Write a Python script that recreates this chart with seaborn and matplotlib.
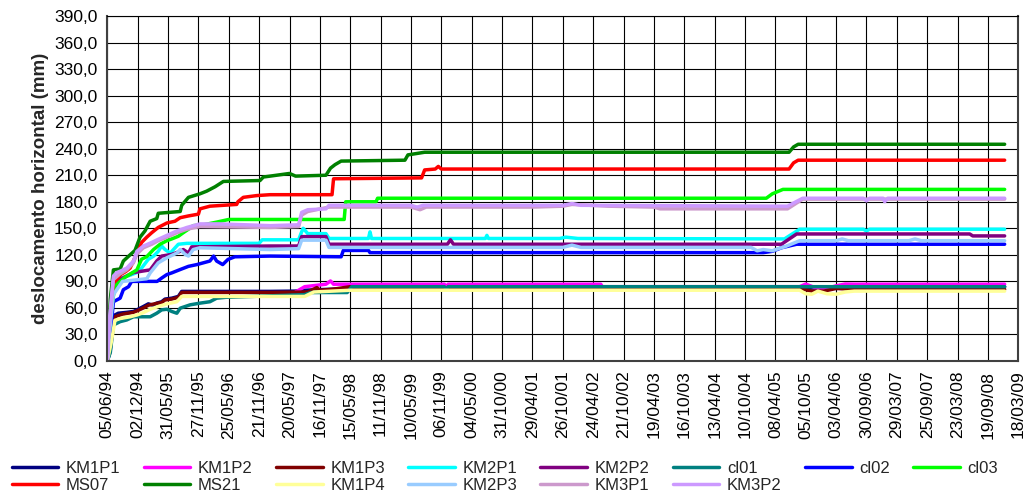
import pandas as pd
import matplotlib
matplotlib.use("Agg")
import matplotlib.pyplot as plt
import matplotlib.dates as mdates
from matplotlib.ticker import FuncFormatter, MultipleLocator
import seaborn as sns

# ======================================
# DATA (days since first reading, mm)
# ======================================

inicio = "1994-06-05"

dias_KM1P1 = [0, 16, 36, 45, 65, 115, 155, 175, 214, 243, 274, 293, 322, 342, 382, 421, 441, 965, 1116, 1170, 1440, 4050, 4590, 5319]
desl_KM1P1 = [0, 10, 42.6, 52, 54, 55, 56, 57.8, 61.6, 64.6, 63, 65.4, 67, 70, 71, 73, 78.7, 78.7, 79, 80, 82, 82, 84, 84]

dias_KM1P2 = [1116, 1170, 1296, 1323, 1341, 1998, 2009, 2020, 2925, 2934, 4104, 4140, 4194, 4248, 4320, 4374, 4428, 5319]
desl_KM1P2 = [78, 84, 86.8, 90.5, 86.8, 86.8, 83, 86.8, 86.8, 84, 84, 87, 83, 81, 85, 87, 86.8, 86.8]

dias_KM1P3 = [0, 36, 45, 90, 155, 180, 214, 243, 288, 322, 342, 382, 421, 441, 965, 1188, 1242, 1260, 1332, 1440, 1458, 4104, 4176, 4248, 4320, 4428, 5319]
desl_KM1P3 = [0, 40, 50, 53, 55, 57, 60, 63, 65, 66, 69, 70, 72, 77.5, 77.5, 78, 83, 80, 81, 84, 82, 82, 79, 79, 82, 81, 81]

dias_KM2P1 = [0, 9, 36, 72, 135, 175, 203, 243, 274, 302, 322, 342, 373, 421, 472, 900, 918, 1134, 1152, 1161, 1188, 1296, 1314, 1548, 1557, 1566, 2241, 2250, 2259, 2682, 2718, 2790, 4014, 4104, 4482, 4500, 4518, 5319]
desl_KM2P1 = [0, 30, 80, 93, 97, 100, 105, 115, 118.5, 124, 130, 126, 122, 132, 133, 133, 137, 137, 146, 150, 144, 144, 138.5, 138.5, 146, 138.5, 138.5, 142, 138.5, 138.5, 140, 138.5, 138, 149, 149, 147, 149, 149]

dias_KM2P2 = [0, 9, 36, 72, 155, 254, 293, 322, 382, 432, 450, 481, 500, 965, 1134, 1152, 1296, 1314, 2016, 2034, 2052, 3996, 4086, 5112, 5130, 5319]
desl_KM2P2 = [0, 30, 80, 92, 100, 103, 113, 118.6, 120.5, 124, 126, 122, 129, 130, 130, 140.6, 140.6, 132, 132, 137, 132, 132, 143.6, 143.6, 141.4, 141.4]

dias_cl01 = [0, 18, 36, 76, 115, 155, 254, 293, 322, 353, 382, 412, 432, 491, 549, 608, 648, 702, 1170, 1206, 1422, 1449, 1998, 2009, 2020, 5319]
desl_cl01 = [0, 10, 40.7, 44.5, 46.4, 50, 50, 54, 57.8, 58.5, 56, 54, 59.7, 63.5, 65.4, 67, 71, 72, 75, 77.4, 77.4, 84, 84, 81, 84, 84]

dias_cl02 = [0, 18, 36, 76, 95, 126, 144, 295, 324, 353, 382, 432, 481, 531, 608, 630, 648, 684, 715, 756, 965, 1386, 1399, 1548, 1557, 3888, 3942, 3996, 4086, 5319]
desl_cl02 = [0, 30, 67, 71, 80.6, 84, 90, 90, 94, 97.7, 99.6, 103.4, 107, 109, 113, 118.6, 113, 109, 114.8, 117.8, 118.6, 117.8, 125, 125, 122.5, 122.5, 124, 128, 132, 132]

dias_cl03 = [0, 18, 45, 108, 175, 203, 234, 274, 313, 353, 382, 421, 450, 481, 509, 571, 648, 720, 1404, 1413, 1593, 1602, 3906, 3942, 4005, 5319]
desl_cl03 = [0, 50, 85, 95, 103, 115, 118, 126, 132, 136, 138, 141, 145, 149, 153, 154, 157, 160, 160, 180, 180, 184, 184, 189, 194, 194]

dias_MS07 = [0, 18, 36, 81, 108, 135, 155, 175, 203, 234, 263, 302, 353, 401, 432, 481, 540, 549, 608, 767, 774, 806, 886, 965, 1332, 1341, 1863, 1881, 1944, 1962, 1980, 4041, 4068, 4095, 5319]
desl_MS07 = [0, 60, 88, 98, 101, 105, 113, 122, 134, 140, 145, 151, 156, 158, 162, 164, 166, 172, 175, 177, 180, 185, 187, 188, 188, 206, 207, 216, 217, 220, 217, 217, 224, 227, 227]

dias_MS21 = [0, 18, 36, 76, 95, 135, 164, 194, 223, 254, 293, 302, 432, 441, 481, 549, 589, 639, 688, 905, 925, 965, 1080, 1116, 1296, 1323, 1350, 1386, 1764, 1782, 1881, 4041, 4068, 4095, 5319]
desl_MS21 = [0, 70, 103, 104, 113, 120, 125, 140, 147, 158, 161, 167, 169, 176, 185, 189, 192, 197, 203, 204, 208, 209, 212, 209, 210, 218, 222, 226, 227, 233, 236, 236, 242, 245, 245]

dias_KM1P4 = [0, 22, 36, 45, 76, 135, 175, 214, 254, 302, 353, 412, 441, 965, 1170, 1224, 1440, 4104, 4140, 4176, 4212, 4266, 4320, 4374, 4428, 5319]
desl_KM1P4 = [0, 20, 35, 46, 48, 50, 52, 54.7, 58.5, 61.6, 64.6, 67, 73, 73, 73, 78, 80, 80, 76, 75.5, 79, 76, 75.5, 78, 79, 79]

dias_KM2P3 = [0, 9, 36, 90, 234, 254, 302, 353, 412, 432, 461, 481, 509, 549, 965, 1134, 1152, 1296, 1314, 2700, 2754, 2808, 3816, 3852, 3888, 3942, 3978, 4014, 4104, 4320, 4356, 4392, 4752, 4788, 4824, 5319]
desl_KM2P3 = [0, 25, 75, 90, 93, 99.6, 111, 116.7, 122, 126, 120.5, 118.6, 126, 128, 126, 127, 136.6, 136.6, 128.4, 128.4, 131, 128.4, 128.4, 124.6, 126, 124.6, 127, 129, 136, 136, 138, 136, 136, 138, 136, 136]

dias_KM3P1 = [0, 9, 36, 72, 115, 155, 175, 214, 263, 302, 353, 412, 472, 549, 965, 1134, 1152, 1188, 1314, 1800, 1854, 1890, 2520, 2700, 2754, 2970, 3240, 3276, 4032, 4122, 5319]
desl_KM3P1 = [0, 35, 92, 98, 103, 111, 121, 128, 132, 136, 140, 145, 149, 152, 151, 152, 165, 169, 174, 174, 171, 174, 174, 175, 177, 175, 174, 172, 172, 183, 183]

dias_KM3P2 = [0, 9, 36, 56, 76, 115, 155, 175, 214, 263, 302, 353, 412, 472, 549, 666, 965, 1134, 1152, 1188, 1296, 1314, 1800, 1836, 1872, 2700, 2754, 2808, 4032, 4122, 4482, 4500, 4518, 4599, 4608, 4626, 5319]
desl_KM3P2 = [0, 40, 96, 100, 101.5, 105, 113, 124, 130, 134, 137.6, 142, 147, 151, 155, 155, 153, 154, 168, 171, 172, 176, 176, 174, 176, 176, 178, 176, 175, 184, 184, 181, 184, 184, 180, 184, 184]

nomes = ["KM1P1", "KM1P2", "KM1P3", "KM2P1", "KM2P2", "cl01", "cl02", "cl03",
         "MS07", "MS21", "KM1P4", "KM2P3", "KM3P1", "KM3P2"]

cores = ["#000080", "#FF00FF", "#800000", "#00FFFF", "#800080", "#008080", "#0000FF", "#00FF00",
         "#FF0000", "#008000", "#FFFF99", "#99CCFF", "#CC99CC", "#CC99FF"]

series = [
    (dias_KM1P1, desl_KM1P1), (dias_KM1P2, desl_KM1P2), (dias_KM1P3, desl_KM1P3),
    (dias_KM2P1, desl_KM2P1), (dias_KM2P2, desl_KM2P2), (dias_cl01, desl_cl01),
    (dias_cl02, desl_cl02), (dias_cl03, desl_cl03), (dias_MS07, desl_MS07),
    (dias_MS21, desl_MS21), (dias_KM1P4, desl_KM1P4), (dias_KM2P3, desl_KM2P3),
    (dias_KM3P1, desl_KM3P1), (dias_KM3P2, desl_KM3P2),
]

# ======================================
# LONG TABLE
# ======================================

partes = []
for nome, (dias, desl) in zip(nomes, series):
    partes.append(pd.DataFrame({
        "data": pd.Timestamp(inicio) + pd.to_timedelta(dias, unit="D"),
        "desl": desl,
        "ponto": nome
    }))
df = pd.concat(partes, ignore_index=True)

# ======================================
# PLOT
# ======================================

sns.set_style("white")
plt.rcParams["font.family"] = ["Liberation Sans", "DejaVu Sans"]

fig, ax = plt.subplots(figsize=(10.26, 5.0), dpi=100)
fig.subplots_adjust(left=0.1046, right=0.9925, top=0.968, bottom=0.278)

sns.lineplot(
    data=df,
    x="data",
    y="desl",
    hue="ponto",
    hue_order=nomes,
    palette=dict(zip(nomes, cores)),
    estimator=None,
    sort=False,
    linewidth=2.5,
    ax=ax
)

t0 = pd.Timestamp(inicio)
ticks = pd.date_range(t0, periods=31, freq="180D")
ax.set_xlim(ticks[0], ticks[-1])
ax.set_xticks(ticks)
ax.xaxis.set_major_formatter(mdates.DateFormatter("%d/%m/%y"))
plt.setp(ax.get_xticklabels(), rotation=90)

ax.set_ylim(0, 390)
ax.yaxis.set_major_locator(MultipleLocator(30))
ax.yaxis.set_major_formatter(FuncFormatter(lambda v, p: f"{v:.1f}".replace(".", ",")))

ax.grid(True, color="black", linewidth=0.8)
ax.tick_params(axis="both", direction="out", length=5, width=1, colors="black",
               labelsize=12.5, pad=2)
for s in ax.spines.values():
    s.set_color("#404040")
    s.set_linewidth(1.5)
ax.spines["top"].set_color("black")
ax.spines["top"].set_linewidth(0.8)

ax.set_xlabel("")
ax.set_ylabel("deslocamento horizontal (mm)", fontsize=13.5, fontweight="bold", labelpad=4)

# legend filled row by row, like the original
leg = ax.get_legend()
handles = {t.get_text(): h for t, h in zip(leg.get_texts(), leg.legend_handles)}
leg.remove()
ordem = ["KM1P1", "MS07", "KM1P2", "MS21", "KM1P3", "KM1P4", "KM2P1", "KM2P3",
         "KM2P2", "KM3P1", "cl01", "KM3P2", "cl02", "cl03"]

fig.legend(
    [handles[n] for n in ordem],
    ordem,
    loc="upper left",
    bbox_to_anchor=(0.0, 0.102),
    ncol=8,
    frameon=False,
    fontsize=12,
    handlelength=2.8,
    handletextpad=0.45,
    columnspacing=1.4,
    labelspacing=0.15,
    borderpad=0.2
)

plt.savefig("out.png", dpi=100)
